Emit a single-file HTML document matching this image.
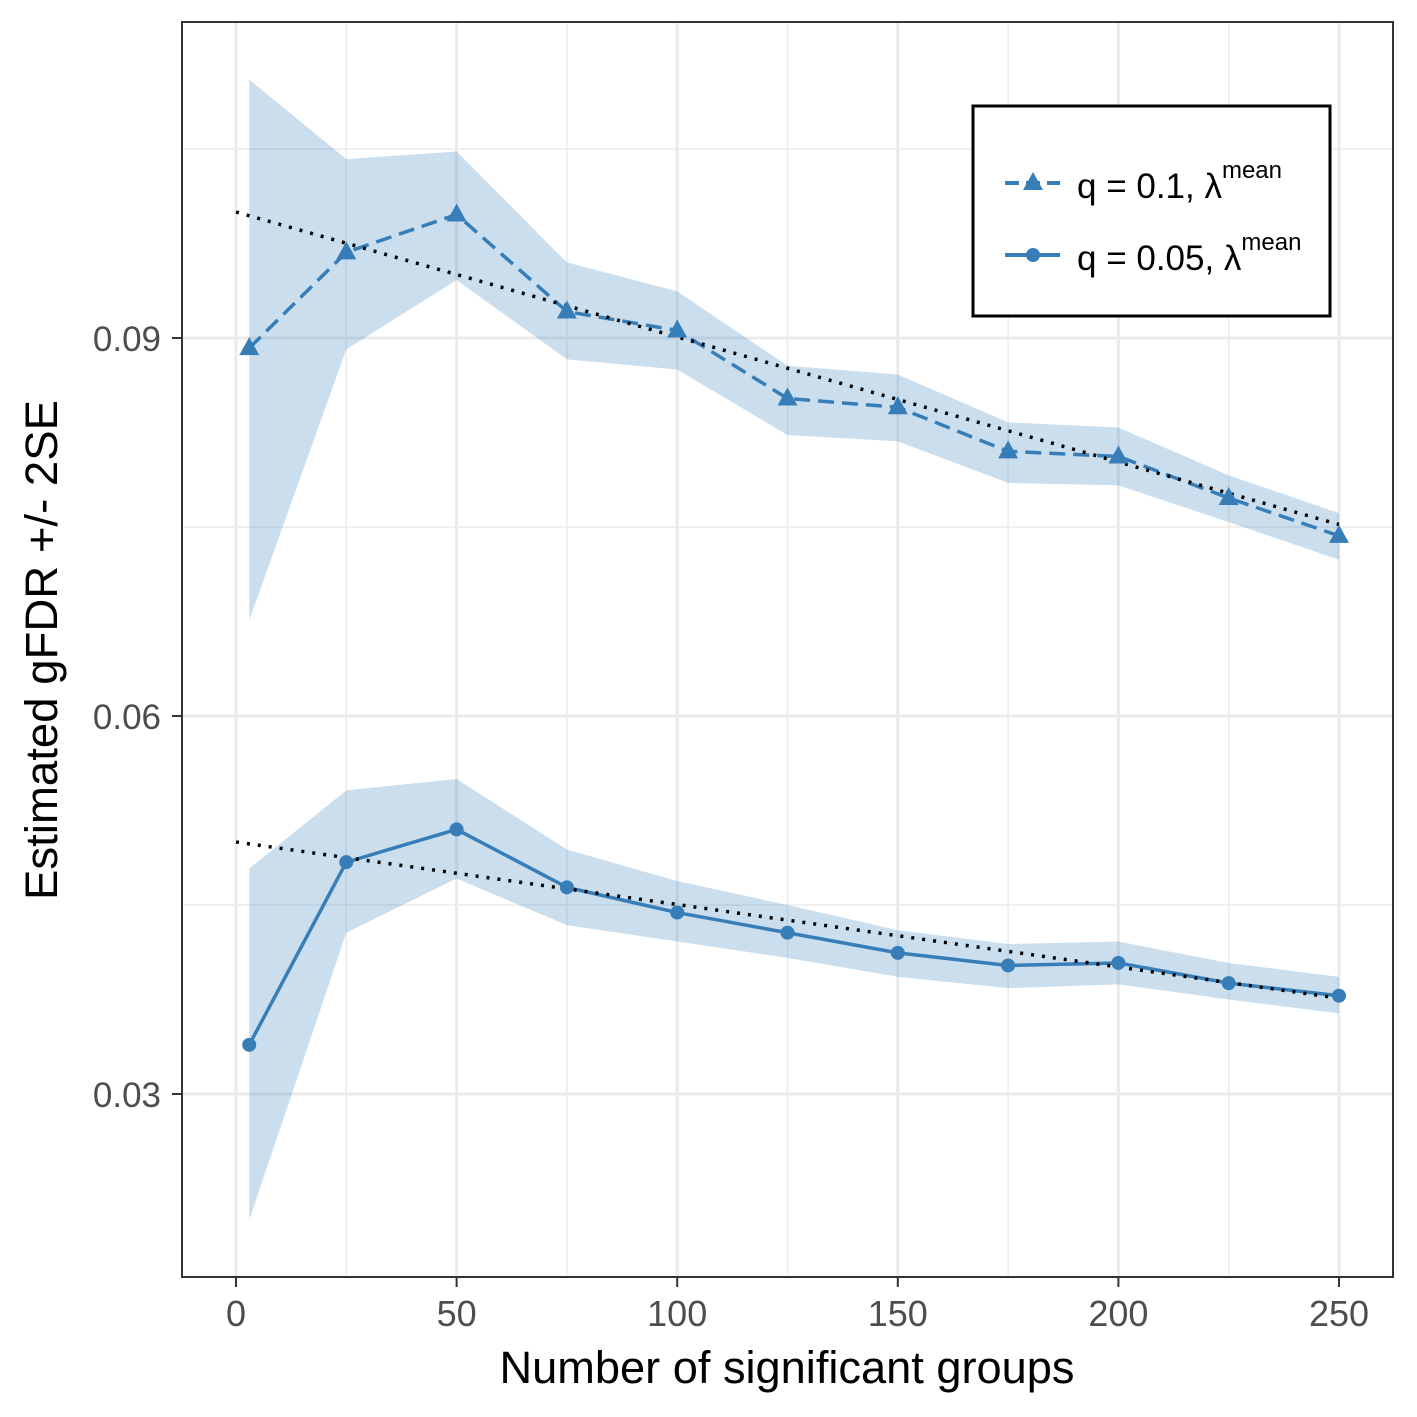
<!DOCTYPE html>
<html><head><meta charset="utf-8"><style>
html,body{margin:0;padding:0;background:#fff;}
svg{display:block;font-family:"Liberation Sans",sans-serif;}
</style></head><body>
<svg id="chart" width="1417" height="1417" viewBox="0 0 1417 1417">
<rect x="0" y="0" width="1417" height="1417" fill="#fff"/>
<g id="grid"></g>
<g id="series"></g>
<rect x="182" y="22" width="1211" height="1255" fill="none" stroke="#333" stroke-width="2"/>
<g id="axes"></g>
<text x="787" y="1383" font-size="45" text-anchor="middle" textLength="575" lengthAdjust="spacingAndGlyphs" fill="#000">Number of significant groups</text>
<text transform="translate(57,650) rotate(-90)" font-size="45" text-anchor="middle" textLength="500" lengthAdjust="spacingAndGlyphs" fill="#000">Estimated gFDR +/- 2SE</text>
<g>
<rect x="973" y="106" width="357" height="210" fill="#fff" stroke="#000" stroke-width="3"/>
<g>
<line x1="1005" y1="183" x2="1060" y2="183" stroke="#377EB8" stroke-width="4" stroke-dasharray="14,7"/>
<polygon points="1033,172 1043,190 1023,190" fill="#377EB8"/>
<text x="1077" y="198" font-size="35" fill="#000">q = 0.1, λ<tspan font-size="24" dy="-20">mean</tspan></text>
</g>
<g>
<line x1="1005" y1="255" x2="1060" y2="255" stroke="#377EB8" stroke-width="4"/>
<circle cx="1033" cy="255" r="7" fill="#377EB8"/>
<text x="1077" y="270" font-size="35" fill="#000">q = 0.05, λ<tspan font-size="24" dy="-20">mean</tspan></text>
</g>
</g>
</svg>
<script>
const xs = [3,25,50,75,100,125,150,175,200,225,250];
const q1Mean = [0.0892,0.0968,0.0998,0.0921,0.0906,0.0852,0.0845,0.0810,0.0806,0.0773,0.0743];
const q1Upper = [0.1105,0.1042,0.1048,0.0960,0.0937,0.0878,0.0871,0.0833,0.0829,0.0791,0.0761];
const q1Lower = [0.0676,0.0891,0.0946,0.0883,0.0875,0.0823,0.0818,0.0785,0.0783,0.0754,0.0724];
const q05Mean = [0.0339,0.0484,0.0510,0.0464,0.0444,0.0428,0.0412,0.0402,0.0404,0.0388,0.0378];
const q05Upper = [0.0479,0.0541,0.0550,0.0494,0.0469,0.0450,0.0430,0.0419,0.0421,0.0404,0.0393];
const q05Lower = [0.0200,0.0428,0.0471,0.0434,0.0421,0.0408,0.0393,0.0384,0.0387,0.0375,0.0364];
const trendX = [0,250];
const q1Trend = [0.1000,0.0752];
const q05Trend = [0.0500,0.0376];
const xTicks = [0,50,100,150,200,250];
const xMinor = [25,75,125,175,225];
const yTicks = [0.03,0.06,0.09];
const yTickLabels = ["0.03","0.06","0.09"];
const yMinor = [0.045,0.075,0.105];

const NS="http://www.w3.org/2000/svg";
const X = v => 236 + (v-0)*(1339-236)/250;
const Y = v => 338 - (v-0.09)*12600;
function mk(tag, attrs, parent){const e=document.createElementNS(NS,tag);for(const k in attrs)e.setAttribute(k,attrs[k]);parent.appendChild(e);return e;}
const grid=document.getElementById('grid'), ser=document.getElementById('series'), axes=document.getElementById('axes');
xMinor.forEach(v=>{const l=mk('line',{x1:X(v),x2:X(v),y1:22,y2:1277,stroke:'#ebebeb','stroke-width':1.5},grid);

});
yMinor.forEach(v=>{const l=mk('line',{x1:182,x2:1393,y1:Y(v),y2:Y(v),stroke:'#ebebeb','stroke-width':1.5},grid);

});
xTicks.forEach(v=>{const l=mk('line',{x1:X(v),x2:X(v),y1:22,y2:1277,stroke:'#ebebeb','stroke-width':3},grid);


const t=mk('line',{x1:X(v),x2:X(v),y1:1277,y2:1287,stroke:'#333','stroke-width':2},axes);


const tx=mk('text',{x:X(v),y:1326,'font-size':36,'text-anchor':'middle',fill:'#4d4d4d'},axes);tx.textContent=v;

});
yTicks.forEach((v,i)=>{const l=mk('line',{x1:182,x2:1393,y1:Y(v),y2:Y(v),stroke:'#ebebeb','stroke-width':3},grid);


const t=mk('line',{x1:172,x2:182,y1:Y(v),y2:Y(v),stroke:'#333','stroke-width':2},axes);


const tx=mk('text',{x:161,y:Y(v)+13,'font-size':35,'text-anchor':'end',fill:'#4d4d4d'},axes);tx.textContent=yTickLabels[i];

});
function ribbon(up,lo,name){let p=xs.map((x,i)=>X(x)+','+Y(up[i]));for(let i=xs.length-1;i>=0;i--)p.push(X(xs[i])+','+Y(lo[i]));
const r=mk('polygon',{points:p.join(' '),fill:'#377EB8','fill-opacity':0.26},ser);

}
ribbon(q1Upper,q1Lower,'ribbon-q01');
ribbon(q05Upper,q05Lower,'ribbon-q005');
function trend(vals,name){const l=mk('line',{x1:X(trendX[0]),y1:Y(vals[0]),x2:X(trendX[1]),y2:Y(vals[1]),stroke:'#000','stroke-width':3.5,'stroke-dasharray':'3,8'},ser);

}
function line(vals,dash,name){const p=xs.map((x,i)=>X(x)+','+Y(vals[i])).join(' ');
const a={points:p,fill:'none',stroke:'#377EB8','stroke-width':3.5};if(dash)a['stroke-dasharray']=dash;
const l=mk('polyline',a,ser);

}
line(q1Mean,'16,8','line-q01');
line(q05Mean,null,'line-q005');
trend(q1Trend,'trend-q01');
trend(q05Trend,'trend-q005');
xs.forEach((x,i)=>{const cx=X(x),cy=Y(q1Mean[i]);
const t=mk('polygon',{points:`${cx},${cy-11} ${cx+10},${cy+7} ${cx-10},${cy+7}`,fill:'#377EB8'},ser);


const c=mk('circle',{cx:X(x),cy:Y(q05Mean[i]),r:7,fill:'#377EB8'},ser);

});
</script>
</body></html>
